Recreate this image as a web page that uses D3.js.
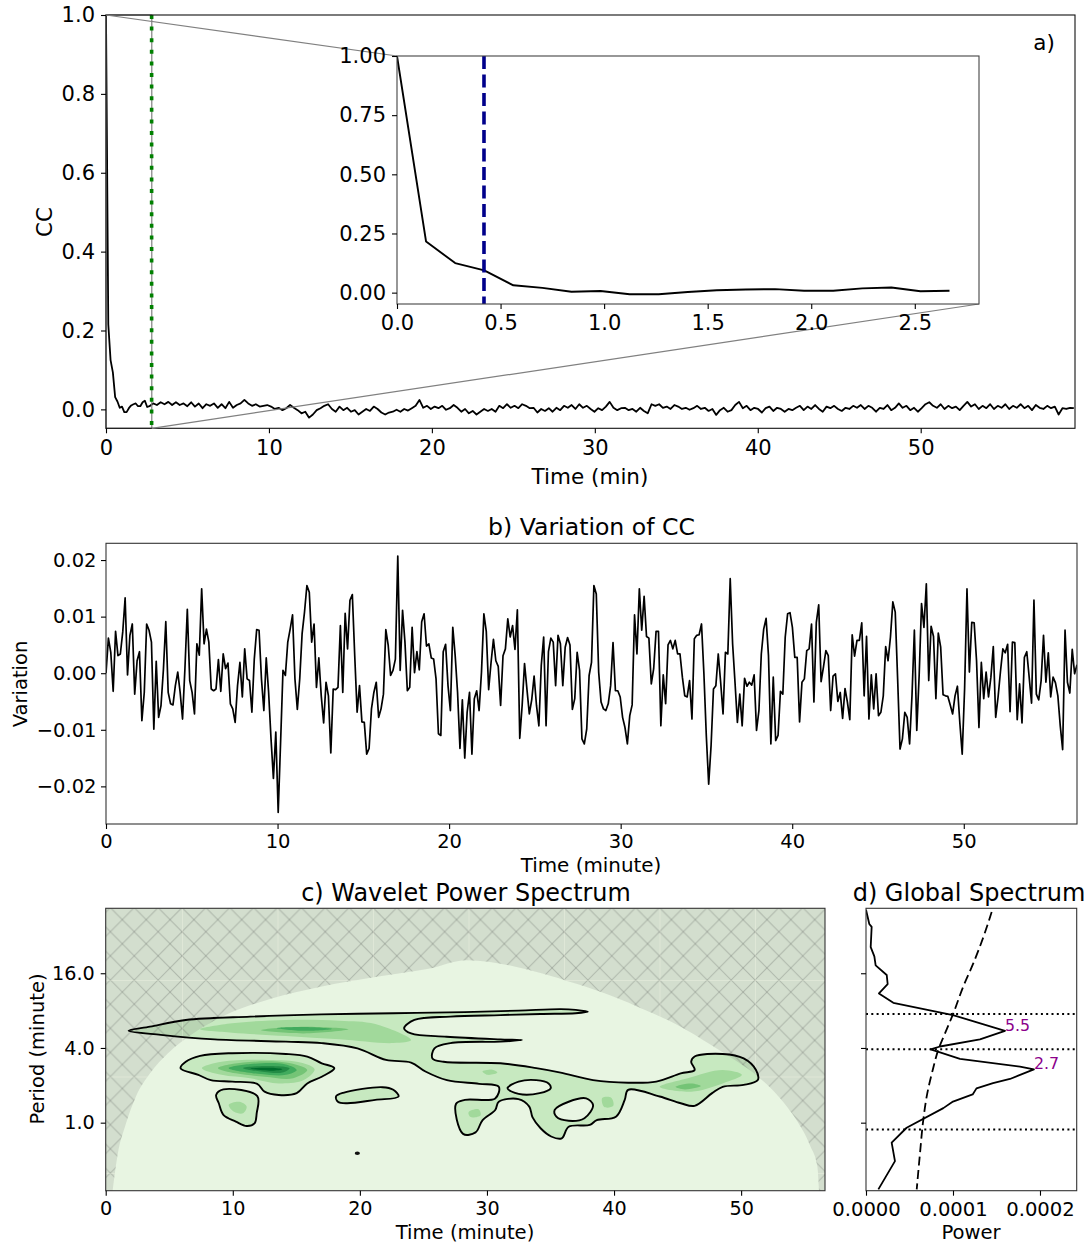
<!DOCTYPE html>
<html><head><meta charset="utf-8">
<script src="https://cdn.jsdelivr.net/npm/d3@7"></script>
<style>body{margin:0;background:#fff;}</style>
</head><body>
<script>
// ---------------- DATA ----------------
// Panel a: correlation coefficient (CC) vs lag time (min)
const ccHeadStep = 0.1404;
const ccHead = [1.0, 0.216, 0.125, 0.094, 0.031, 0.02, 0.004, 0.007, -0.007, -0.007, 0.003, 0.01, 0.013, 0.015, 0.008, 0.008, 0.018, 0.022, 0.006, 0.008];
const ccTailStart = 2.89, ccTailEnd = 59.4;
// tail of CC in units of 1e-3
const ccTailMilli = [15,11,18,13,19,11,18,11,15,8,18,7,15,3,13,9,15,4,13,3,
19,4,11,15,24,15,9,13,7,9,11,7,1,4,-2,3,11,4,-2,-10,
-6,-21,-13,-2,3,9,13,1,-6,7,-2,4,-6,-2,-13,-6,1,-4,7,1,
-8,-13,-8,-6,-1,-6,1,-3,3,9,24,4,9,1,7,3,9,-1,3,11,
4,-6,1,-10,-4,-13,-6,1,-4,1,-6,9,3,13,4,9,3,13,9,3,
4,-8,1,-4,3,-6,4,-2,9,4,11,1,13,4,9,1,-6,3,-2,7,
19,4,-2,3,4,-2,1,-6,4,-4,-10,13,9,13,4,7,1,11,7,1,
4,-1,3,9,1,4,-4,1,-14,-2,4,-6,-2,11,19,3,9,-2,4,1,
-8,3,7,-4,4,1,-6,1,-2,4,9,-2,7,1,11,1,-6,7,3,9,
1,-4,4,1,9,4,11,1,9,4,-6,4,1,11,-2,4,15,4,9,-2,
4,-6,3,13,18,9,4,13,1,9,3,7,-2,9,19,7,13,1,9,3,
13,1,9,4,13,1,9,4,13,3,9,-2,11,4,1,9,3,7,-13,3,
1,4,3];
const aXMax = 59.47, aYMin = -0.048, aYMax = 1.0;
const lagMarker = 2.8;      // green dotted line (min)
const insetXMax = 2.81;     // zoomed window (min)
const insetMarker = 0.42;   // blue dashed line (min)
const aXTicks = [0,10,20,30,40,50];
const aYTicks = [0,0.2,0.4,0.6,0.8,1.0];
const insetXTicks = [0,0.5,1,1.5,2,2.5];
const insetYTicks = [0,0.25,0.5,0.75,1];

// Panel b: variation of CC, units of 1e-3, uniform sampling over [0, bTMax] min
const bTMax = 56.6;
const variationMilli = [
0.0,6.2,3.7,-3.2,7.4,3.1,3.4,7.3,13.3,-0.3,6.7,8.7,-3.7,2.2,3.8,-8.4,-3.4,8.7,7.6,5.5,
-9.9,2.1,-7.8,-5.7,0.6,9.1,-3.4,-5.4,-5.6,-2.2,0.2,-3.4,-8.1,0.8,11.3,-1.3,-3.4,-7.2,5.2,3.2,
14.9,5.2,7.8,5.5,-2.8,-3.1,-2.8,2.4,-3.2,3.4,0.8,1.8,-5.4,-6.3,-8.7,-2.2,1.9,-4.2,4.3,-1.0,
-1.3,-6.9,2.5,7.7,7.6,-1.0,-6.6,2.7,-3.4,-11.6,-18.6,-10.4,-24.6,-12.2,0.5,-0.4,5.5,7.8,10.3,-1.0,
-6.4,-1.0,7.0,10.8,15.5,14.3,5.5,8.7,-2.5,2.7,-4.0,-8.8,-1.6,-4.0,-14.1,-2.8,-2.9,-2.5,8.4,-3.4,
10.6,4.3,12.9,
13.9,3.1,-6.9,-2.2,-8.6,-8.7,-14.3,-13.3,-6.3,-3.4,-1.6,-7.8,-6.3,-3.7,7.7,4.9,-0.4,0.5,2.5,20.7,
0.5,11.1,5.5,-3.1,-2.5,8.1,0.1,3.8,0.6,9.1,10.5,4.8,5.2,2.7,2.5,-1.0,-10.7,-11.0,3.8,5.1,
-2.2,-6.6,8.1,3.1,-3.4,-13.3,-4.7,-15.0,-6.9,-3.4,-14.3,-4.5,-3.1,-6.6,0.2,10.5,7.4,-2.9,1.9,6.0,
2.2,1.2,-5.7,3.1,4.3,9.6,6.4,8.4,4.2,11.2,-11.5,-5.7,1.7,-2.8,-7.2,-4.7,-0.5,-5.7,-9.3,1.4,
6.4,-9.3,3.8,6.2,5.5,-2.2,6.7,5.2,-2.2,4.6,6.3,5.0,-6.4,-4.5,3.7,0.5,-11.6,-12.5,-9.9,-0.4,
1.9,15.5,
14.0,0.2,-5.1,-6.3,-6.6,-5.4,-2.2,5.4,-3.1,-3.1,-4.2,-7.8,-9.6,-12.5,-7.5,-5.6,10.3,3.4,14.9,7.6,
13.6,6.5,6.2,-1.9,0.8,7.4,7.4,-9.3,-0.3,-5.4,5.0,5.8,4.3,5.8,3.4,3.4,-0.7,-4.0,-4.2,-1.3,
-8.1,6.1,6.7,6.8,8.7,-0.1,-11.0,-19.6,-12.8,-2.8,-2.2,3.4,-1.6,-7.2,3.7,3.4,16.7,5.2,-1.6,-8.7,
-3.7,-9.3,-0.9,-2.3,-1.6,-2.1,-0.3,-10.1,-6.6,3.4,7.8,9.7,3.1,-12.5,-0.7,-11.9,-11.0,-3.2,-3.7,6.4,
10.5,10.7,8.1,2.8,2.8,-8.6,-1.6,-1.0,4.0,4.3,8.7,-5.1,9.0,12.1,-1.5,1.1,4.0,3.1,-6.6,-0.5,
-0.1,-5.0,-3.4,
-8.0,-2.7,-5.1,-8.2,6.8,3.0,5.8,5.8,8.9,-4.0,6.5,-8.1,-0.3,-6.3,-0.1,-7.5,-6.9,-4.0,4.7,2.2,
6.4,12.6,10.8,-1.0,-13.4,-11.6,-6.9,-7.8,-12.5,-4.0,7.6,-10.1,-0.4,12.3,8.1,15.8,-1.3,8.3,6.5,-4.5,
7.1,4.6,-3.8,-4.0,-4.1,-5.6,-7.2,-4.0,-2.3,-8.7,-14.3,-2.8,14.9,0.2,9.0,8.9,2.2,-9.6,1.9,-4.5,
0.2,-4.2,-0.7,4.7,-7.8,-4.2,0.3,4.3,3.6,5.1,-6.8,5.5,5.4,-8.2,-1.9,-8.8,2.8,3.8,-0.7,-5.3,
12.9,-3.7,-4.7,-1.3,6.7,-1.6,3.6,-4.2,-0.7,-1.7,-4.0,-9.3,-13.5,7.6,-1.6,-3.5,4.2,-0.1,1.5];
const bYMin = -0.02665, bYMax = 0.02296;
const bXTicks = [0,10,20,30,40,50];
const bYTicks = [-0.02,-0.01,0,0.01,0.02];

// Panel c: wavelet power spectrum. Contours as [time (min), log2(period/min)]
const cTMax = 56.6, cPMin = 0.283, cPMax = 53.4;
const cXTicks = [0,10,20,30,40,50];
const cYTicks = [1,4,16];
const coiTime = [0.54,0.96,1.52,2.37,3.49,4.90,6.87,9.68,13.06,17.0,21.2,25.4,28.4,34.22,36.98,39.73,42.49,45.25,47.45,49.65,51.31,52.96,54.33,55.44,55.99,56.13];
const coiPeriod = [0.28,0.57,0.93,1.62,2.50,3.63,5.24,7.57,10.0,12.5,14.9,17.4,20.4,16.1,13.2,10.6,8.06,5.94,4.35,3.12,2.36,1.62,1.06,0.65,0.45,0.28];
const sigContourA = [[1.80,2.46],[3.49,2.57],[6.30,2.75],[11.37,2.84],[16.97,2.90],[22.64,2.93],[28.24,2.96],[32.49,3.00],[35.80,3.04],[36.98,3.02],[37.94,2.97],[36.98,2.93],[34.22,2.91],[31.07,2.88],[27.13,2.84],[24.29,2.75],[23.48,2.53],[24.03,2.39],[26.82,2.30],[31.07,2.23],[32.76,2.21],[31.07,2.17],[27.13,2.13],[25.87,1.99],[25.71,1.72],[26.58,1.63],[31.07,1.59],[33.88,1.46],[35.80,1.34],[38.35,1.14],[41.11,1.07],[43.32,1.10],[45.25,1.32],[46.34,1.41],[46.07,1.63],[46.34,1.77],[48.55,1.84],[50.20,1.72],[51.17,1.41],[51.31,1.14],[50.20,1.01],[48.55,0.96],[47.72,0.79],[46.34,0.45],[45.25,0.52],[43.59,0.70],[41.11,0.88],[40.84,0.61],[40.15,0.16],[38.64,0.07],[38.09,-0.06],[36.43,-0.11],[35.88,-0.42],[35.05,-0.37],[34.22,-0.15],[33.59,0.14],[33.33,0.43],[32.48,0.63],[30.93,0.56],[30.65,0.34],[29.66,0.07],[29.10,-0.26],[28.12,-0.30],[27.56,0.50],[28.26,0.61],[30.65,0.65],[30.93,0.96],[29.38,1.04],[26.85,1.14],[25.16,1.37],[24.03,1.61],[22.06,1.68],[19.81,1.99],[17.00,2.13],[14.18,2.17],[8.56,2.23],[4.33,2.35]];
const sigContourB = [[5.89,1.46],[6.30,1.63],[7.43,1.79],[9.95,1.86],[14.18,1.84],[15.86,1.77],[17.00,1.59],[17.99,1.46],[17.00,1.23],[15.86,1.05],[15.03,0.79],[13.62,0.74],[12.50,0.83],[11.92,1.04],[9.95,1.10],[8.27,1.14],[7.29,1.28]];
const sigContourC = [[8.69,0.74],[9.26,0.89],[11.93,0.71],[11.88,0.25],[11.71,-0.02],[11.09,-0.09],[10.24,0.03],[9.26,0.21],[8.90,0.52]];
const sigContourD = [[18.12,0.70],[18.69,0.80],[21.78,0.95],[22.63,0.88],[23.05,0.70],[21.22,0.61],[18.97,0.52],[18.27,0.56]];
const sigHoles = [
  [[31.62,0.92],[32.49,1.10],[33.88,1.14],[34.85,1.05],[35.01,0.92],[34.14,0.79],[32.49,0.77]],
  [[35.33,0.34],[36.43,0.56],[37.81,0.65],[38.35,0.47],[37.67,0.12],[36.43,0.05],[35.46,0.16]]];
const sigDot = [19.80,-0.82];
const powerLevel2 = [
  [[7.43,2.50],[9.95,2.66],[14.18,2.75],[18.38,2.73],[21.22,2.64],[24.03,2.21],[22.64,2.13],[18.38,2.23],[14.18,2.32],[9.95,2.41]],
  [[43.59,0.96],[45.80,1.19],[48.55,1.41],[50.06,1.28],[48.55,1.05],[46.07,0.83]],
  [[39.07,0.66],[39.78,0.67],[39.94,0.45],[39.23,0.42]],
  [[28.55,0.28],[29.34,0.36],[29.50,0.20],[28.71,0.15]],
  [[29.65,1.37],[30.44,1.42],[30.83,1.34],[30.05,1.28]],
  [[7.57,1.46],[9.12,1.63],[12.78,1.68],[15.31,1.61],[16.44,1.43],[15.59,1.14],[13.62,1.05],[11.37,1.19],[9.12,1.28]],
  [[9.68,0.48],[10.53,0.56],[11.09,0.43],[10.81,0.25],[10.10,0.29]]];
const powerLevel3 = [
  [[12.21,2.48],[15.59,2.57],[19.11,2.50],[15.59,2.39]],
  [[44.83,0.96],[46.07,1.05],[46.83,0.98],[45.57,0.89]],
  [[8.84,1.46],[10.81,1.61],[14.18,1.61],[15.86,1.41],[14.75,1.19],[12.50,1.23],[10.24,1.32]]];
const powerLevel4 = [
  [[13.5,2.53],[15.6,2.56],[17.8,2.51],[15.6,2.46]],
  [[9.68,1.46],[11.37,1.57],[14.18,1.56],[15.03,1.41],[14.18,1.28],[12.21,1.30]]];
const powerLevel5 = [[[10.81,1.46],[12.50,1.52],[14.47,1.46],[13.90,1.34],[12.21,1.37]]];
const powerLevel6 = [[[11.37,1.45],[13.06,1.47],[13.90,1.43],[13.06,1.39]]];

// Panel d: global wavelet spectrum
const globalPeriod = [52.0,39.9,37.8,26.0,21.9,18.5,15.5,13.1,11.0,9.25,7.36,5.50,4.69,4.11,3.89,3.68,3.27,2.83,2.69,2.25,2.08,1.89,1.69,1.48,1.31,0.91,0.69,0.49,0.29];
const globalPower = [0.0,0.0000038,0.0000065,0.0000054,0.0000096,0.0000111,0.0000238,0.0000249,0.0000149,0.0000314,0.0001,0.0001598,0.000131,0.0000851,0.0000743,0.0000851,0.000108,0.000177,0.000193,0.0001655,0.000146,0.000127,0.0001226,0.0001,0.0000889,0.0000467,0.0000295,0.0000333,0.0000142];
const sigPeriod = [49.9,31.3,19.2,12.5,7.57,5.24,3.86,2.66,1.73,1.06,0.57,0.29];
const sigPower = [0.0001445,0.0001349,0.0001233,0.0001118,0.0001003,0.0000908,0.0000831,0.0000767,0.0000705,0.0000659,0.0000621,0.0000583];
const bandPeriods = [7.5,3.9,0.88];
const peakPeriods = [5.5,2.69], peakPowers = [0.0001598,0.000193], peakTexts = ["5.5","2.7"];
const dXMax = 0.0002422;
const dXTicks = [0,0.0001,0.0002];

// ---------------- DRAWING ----------------
const FONT = "DejaVu Sans, sans-serif";
const svg = d3.select('body').append('svg').attr('width',1088).attr('height',1245).style('display','block');
const defs = svg.append('defs');
function clip(id,x0,y0,x1,y1){defs.append('clipPath').attr('id',id).append('rect').attr('x',x0).attr('y',y0).attr('width',x1-x0).attr('height',y1-y0);}
function frame(x0,y0,x1,y1,color){svg.append('rect').attr('x',x0).attr('y',y0).attr('width',x1-x0).attr('height',y1-y0).attr('fill','none').attr('stroke',color||'#222').attr('stroke-width',1.1);}
function styleAxis(g,fs){g.attr('font-family',FONT).attr('font-size',fs);g.select('.domain').remove();g.selectAll('.tick line').attr('stroke','#000').attr('stroke-width',1.1);g.selectAll('.tick text').attr('fill','#000');}
function label(x,y,txt,fs,opts){const t=svg.append('text').attr('x',x).attr('y',y).attr('font-family',FONT).attr('font-size',fs).attr('text-anchor',(opts&&opts.anchor)||'middle').attr('fill',(opts&&opts.fill)||'#000').text(txt);if(opts&&opts.rotate)t.attr('transform',`rotate(-90,${x},${y})`);return t;}

// ===== Panel a =====
const A={x0:106,x1:1075,y0:15,y1:428.3};
const ax=d3.scaleLinear().domain([0,aXMax]).range([A.x0,A.x1]);
const ay=d3.scaleLinear().domain([aYMin,aYMax]).range([A.y1,A.y0]);
clip('clipA',A.x0,A.y0,A.x1,A.y1);
const headPts=ccHead.map((v,i)=>[i*ccHeadStep,v]);
const tailStep=(ccTailEnd-ccTailStart)/(ccTailMilli.length-1);
const ccPts=headPts.concat(ccTailMilli.map((m,k)=>[ccTailStart+k*tailStep,m/1000]));
svg.append('path').datum(ccPts).attr('clip-path','url(#clipA)')
  .attr('d',d3.line().x(d=>ax(d[0])).y(d=>ay(d[1])))
  .attr('fill','none').attr('stroke','#000').attr('stroke-width',1.8).attr('stroke-linejoin','round');
// zoom indicator rectangle
svg.append('rect').attr('x',ax(0)).attr('y',ay(aYMax)).attr('width',ax(insetXMax)-ax(0)).attr('height',ay(aYMin)-ay(aYMax))
  .attr('fill','none').attr('stroke','#808080').attr('stroke-width',1.2);
svg.append('line').attr('x1',ax(lagMarker)).attr('x2',ax(lagMarker)).attr('y1',A.y0).attr('y2',A.y1)
  .attr('stroke','#008000').attr('stroke-width',3.6).attr('stroke-dasharray','4 7.6');
frame(A.x0,A.y0,A.x1,A.y1,'#111');
const ax_g=svg.append('g').attr('transform',`translate(0,${A.y1})`).call(d3.axisBottom(ax).tickValues(aXTicks).tickSize(5).tickPadding(7).tickFormat(d3.format('d')));
styleAxis(ax_g,21);
const ay_g=svg.append('g').attr('transform',`translate(${A.x0},0)`).call(d3.axisLeft(ay).tickValues(aYTicks).tickSize(5).tickPadding(6).tickFormat(d3.format('.1f')));
styleAxis(ay_g,21);
label(590,484,'Time (min)',21.5);
label(52,222,'CC',21.5,{rotate:true});
label(1044,50,'a)',21.5);

// inset
const I={x0:397,x1:979,y0:56,y1:304};
const ix=d3.scaleLinear().domain([0,insetXMax]).range([I.x0,I.x1]);
const iy=d3.scaleLinear().domain([aYMin,aYMax]).range([I.y1,I.y0]);
// connector lines
svg.append('line').attr('x1',ax(0)).attr('y1',ay(aYMax)).attr('x2',I.x0).attr('y2',I.y0).attr('stroke','#808080').attr('stroke-width',1.2);
svg.append('line').attr('x1',ax(insetXMax)).attr('y1',ay(aYMin)).attr('x2',I.x1).attr('y2',I.y1).attr('stroke','#808080').attr('stroke-width',1.2);
svg.append('rect').attr('x',I.x0).attr('y',I.y0).attr('width',I.x1-I.x0).attr('height',I.y1-I.y0).attr('fill','#fff');
clip('clipI',I.x0,I.y0,I.x1,I.y1);
svg.append('path').datum(headPts).attr('clip-path','url(#clipI)')
  .attr('d',d3.line().x(d=>ix(d[0])).y(d=>iy(d[1])))
  .attr('fill','none').attr('stroke','#000').attr('stroke-width',1.9).attr('stroke-linejoin','round');
svg.append('line').attr('x1',ix(insetMarker)).attr('x2',ix(insetMarker)).attr('y1',I.y0).attr('y2',I.y1)
  .attr('stroke','#00008b').attr('stroke-width',3.6).attr('stroke-dasharray','13 5.5');
frame(I.x0,I.y0,I.x1,I.y1,'#444');
const ix_g=svg.append('g').attr('transform',`translate(0,${I.y1})`).call(d3.axisBottom(ix).tickValues(insetXTicks).tickSize(5).tickPadding(6).tickFormat(d3.format('.1f')));
styleAxis(ix_g,21);
const iy_g=svg.append('g').attr('transform',`translate(${I.x0},0)`).call(d3.axisLeft(iy).tickValues(insetYTicks).tickSize(5).tickPadding(6).tickFormat(d3.format('.2f')));
styleAxis(iy_g,21);

// ===== Panel b =====
const B={x0:106,x1:1077,y0:543.3,y1:824};
const bx=d3.scaleLinear().domain([0,bTMax]).range([B.x0,B.x1]);
const by=d3.scaleLinear().domain([bYMin,bYMax]).range([B.y1,B.y0]);
const bStep=bTMax/(variationMilli.length-1);
clip('clipB',B.x0,B.y0,B.x1,B.y1);
svg.append('path').datum(variationMilli).attr('clip-path','url(#clipB)')
  .attr('d',d3.line().x((d,i)=>bx(i*bStep)).y(d=>by(d/1000)))
  .attr('fill','none').attr('stroke','#000').attr('stroke-width',1.7).attr('stroke-linejoin','round');
frame(B.x0,B.y0,B.x1,B.y1,'#333');
const bx_g=svg.append('g').attr('transform',`translate(0,${B.y1})`).call(d3.axisBottom(bx).tickValues(bXTicks).tickSize(5).tickPadding(5).tickFormat(d3.format('d')));
styleAxis(bx_g,19.5);
const by_g=svg.append('g').attr('transform',`translate(${B.x0},0)`).call(d3.axisLeft(by).tickValues(bYTicks).tickSize(5).tickPadding(4.5).tickFormat(d3.format('.2f')));
styleAxis(by_g,19.5);
label(591.5,535,'b) Variation of CC',23.6);
label(591,872,'Time (minute)',19.9);
label(27,684,'Variation',19.5,{rotate:true});

// ===== Panel c =====
const C={x0:105.7,x1:825,y0:908.3,y1:1190.7};
const cx=d3.scaleLinear().domain([0,cTMax]).range([C.x0,C.x1]);
const cy=d3.scaleLog().base(2).domain([cPMin,cPMax]).range([C.y1,C.y0]);
clip('clipC',C.x0,C.y0,C.x1,C.y1);
const gc=svg.append('g').attr('clip-path','url(#clipC)');
const BG='#e8f5e2';
gc.append('rect').attr('x',C.x0).attr('y',C.y0).attr('width',C.x1-C.x0).attr('height',C.y1-C.y0).attr('fill',BG);
const contourLine=d3.line().x(d=>cx(d[0])).y(d=>cy(Math.pow(2,d[1]))).curve(d3.curveCatmullRomClosed.alpha(0.5));
const sigShapes=[sigContourA,sigContourB,sigContourC,sigContourD];
sigShapes.forEach(s=>gc.append('path').attr('d',contourLine(s)).attr('fill','#c7e9c0'));
sigHoles.forEach(s=>gc.append('path').attr('d',contourLine(s)).attr('fill',BG));
[[powerLevel2,'#a1d99b'],[powerLevel3,'#74c476'],[powerLevel4,'#41ab5d'],[powerLevel5,'#238b45'],[powerLevel6,'#006d2c']]
  .forEach(([lv,col])=>lv.forEach(s=>gc.append('path').attr('d',contourLine(s)).attr('fill',col)));
// cone of influence with hatch
const pw=95.5, ph=96.5;
const pat=defs.append('pattern').attr('id','hatch').attr('patternUnits','userSpaceOnUse').attr('x',182).attr('y',980).attr('width',pw).attr('height',ph);
for(let i=-4;i<=4;i++){pat.append('line').attr('x1',i*pw/4).attr('y1',0).attr('x2',i*pw/4+pw).attr('y2',ph).attr('stroke','rgba(110,115,110,0.38)').attr('stroke-width',1);}
for(let i=0;i<=8;i++){pat.append('line').attr('x1',i*pw/4).attr('y1',0).attr('x2',i*pw/4-pw).attr('y2',ph).attr('stroke','rgba(110,115,110,0.38)').attr('stroke-width',1);}
pat.append('line').attr('x1',0).attr('y1',0).attr('x2',0).attr('y2',ph).attr('stroke','rgba(255,255,240,0.35)').attr('stroke-width',1.5);
pat.append('line').attr('x1',0).attr('y1',0).attr('x2',pw).attr('y2',0).attr('stroke','rgba(255,255,240,0.35)').attr('stroke-width',1.5);
const coiPts=coiTime.map((t,i)=>[t,coiPeriod[i]]);
const coiCurve=d3.line().x(d=>cx(d[0])).y(d=>cy(d[1])).curve(d3.curveMonotoneX)(coiPts);
const coiPath=`M${cx(0)},${C.y1+2}L${cx(coiTime[0])},${C.y1+2}`+coiCurve.replace(/^M/,'L')+`L${cx(cTMax)},${C.y1+2}L${cx(cTMax)},${C.y0}L${cx(0)},${C.y0}Z`;
gc.append('path').attr('d',coiPath).attr('fill','rgba(128,128,128,0.2)');
gc.append('path').attr('d',coiPath).attr('fill','url(#hatch)');
// significance contour outlines
sigShapes.concat(sigHoles).forEach(s=>gc.append('path').attr('d',contourLine(s)).attr('fill','none').attr('stroke','#000').attr('stroke-width',1.9));
gc.append('ellipse').attr('cx',cx(sigDot[0])).attr('cy',cy(Math.pow(2,sigDot[1]))).attr('rx',2.6).attr('ry',1.8).attr('fill','#111');
frame(C.x0,C.y0,C.x1,C.y1,'#333');
const cx_g=svg.append('g').attr('transform',`translate(0,${C.y1})`).call(d3.axisBottom(cx).tickValues(cXTicks).tickSize(5).tickPadding(6).tickFormat(d3.format('d')));
styleAxis(cx_g,19.2);
const cy_g=svg.append('g').attr('transform',`translate(${C.x0},0)`).call(d3.axisLeft(cy).tickValues(cYTicks).tickSize(5).tickPadding(6).tickFormat(d3.format('.1f')));
styleAxis(cy_g,19.2);
label(466,900.5,'c) Wavelet Power Spectrum',23.9);
label(465,1239,'Time (minute)',19.6);
label(44,1049,'Period (minute)',19.5,{rotate:true});

// ===== Panel d =====
const D={x0:866,x1:1076.7,y0:908.3,y1:1190.7};
const dx=d3.scaleLinear().domain([0,dXMax]).range([D.x0,D.x1]);
const dy=d3.scaleLog().base(2).domain([cPMin,cPMax]).range([D.y1,D.y0]);
clip('clipD',D.x0,D.y0,D.x1,D.y1);
const gd=svg.append('g').attr('clip-path','url(#clipD)');
bandPeriods.forEach(p=>gd.append('line').attr('x1',D.x0).attr('x2',D.x1).attr('y1',dy(p)).attr('y2',dy(p)).attr('stroke','#000').attr('stroke-width',2).attr('stroke-dasharray','2 3.3'));
gd.append('path').datum(sigPeriod.map((p,i)=>[sigPower[i],p]))
  .attr('d',d3.line().x(d=>dx(d[0])).y(d=>dy(d[1])).curve(d3.curveMonotoneY))
  .attr('fill','none').attr('stroke','#000').attr('stroke-width',1.8).attr('stroke-dasharray','9 4.5');
gd.append('path').datum(globalPeriod.map((p,i)=>[globalPower[i],p]))
  .attr('d',d3.line().x(d=>dx(d[0])).y(d=>dy(d[1])))
  .attr('fill','none').attr('stroke','#000').attr('stroke-width',1.8).attr('stroke-linejoin','round');
peakTexts.forEach((t,i)=>label(dx(peakPowers[i]),dy(peakPeriods[i]),t,15.8,{anchor:'start',fill:'#8b008b'}));
frame(D.x0,D.y0,D.x1,D.y1,'#333');
const dx_g=svg.append('g').attr('transform',`translate(0,${D.y1})`).call(d3.axisBottom(dx).tickValues(dXTicks).tickSize(5).tickPadding(6).tickFormat(d3.format('.4f')));
styleAxis(dx_g,19.6);
const dy_g=svg.append('g').attr('transform',`translate(${D.x0},0)`).call(d3.axisLeft(dy).tickValues(cYTicks).tickSize(5).tickFormat(''));
styleAxis(dy_g,19.6);
label(969,900.5,'d) Global Spectrum',24);
label(971,1239,'Power',19.6);
</script>
</body></html>
